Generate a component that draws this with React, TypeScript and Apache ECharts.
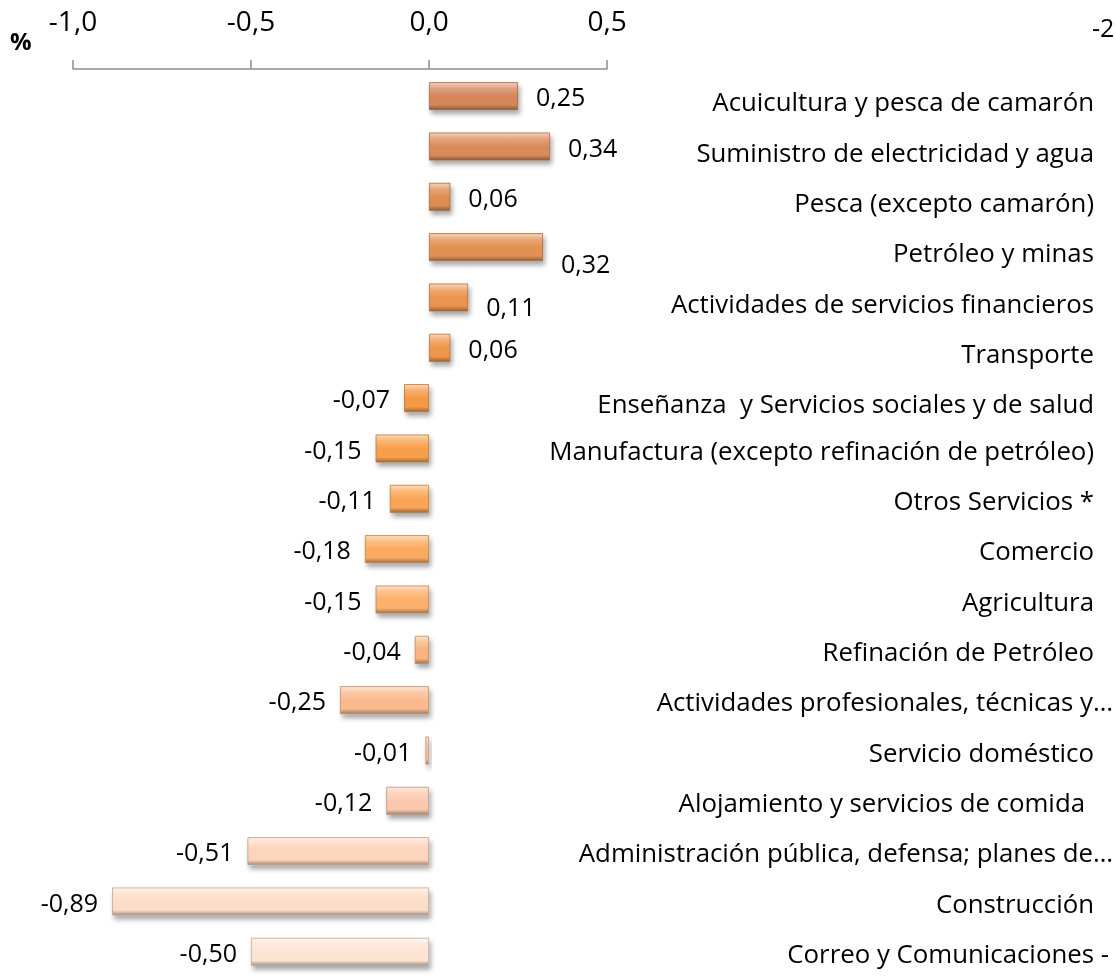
import React, { useEffect, useRef } from "react";
import * as echarts from "echarts";

const categories: string[] = [
  "Acuicultura y pesca de camarón",
  "Suministro de electricidad y agua",
  "Pesca (excepto camarón)",
  "Petróleo y minas",
  "Actividades de servicios financieros",
  "Transporte",
  "Enseñanza  y Servicios sociales y de salud",
  "Manufactura (excepto refinación de petróleo)",
  "Otros Servicios *",
  "Comercio",
  "Agricultura",
  "Refinación de Petróleo",
  "Actividades profesionales, técnicas y…",
  "Servicio doméstico",
  "Alojamiento y servicios de comida",
  "Administración pública, defensa; planes de…",
  "Construcción",
  "Correo y Comunicaciones -",
];

const values: number[] = [
  0.25, 0.34, 0.06, 0.32, 0.11, 0.06, -0.07, -0.15, -0.11, -0.18, -0.15, -0.04,
  -0.25, -0.01, -0.12, -0.51, -0.89, -0.5,
];

const barColors: string[] = [
  "#d4865a", "#da8a58", "#df8d55", "#e39052", "#e99350", "#ef964c",
  "#f49a47", "#f7a04c", "#f9a555", "#faaa60", "#fbb06c", "#f9b37e",
  "#fbba8e", "#f9c3a2", "#fac9ad", "#fcd3bb", "#fddcc8", "#fde3d2",
];

const xTickLabelFormat = (v: number) => v.toFixed(1).replace(".", ",");
const valueFormat = (v: number) => v.toFixed(2).replace(".", ",");

function mix(hex: string, target: number, t: number): string {
  const n = parseInt(hex.slice(1), 16);
  const r = (n >> 16) & 255;
  const g = (n >> 8) & 255;
  const b = n & 255;
  const f = (c: number) => Math.round(c + (target - c) * t);
  return `rgb(${f(r)},${f(g)},${f(b)})`;
}

const FONT = "Open Sans";

export default function App() {
  const ref = useRef<HTMLDivElement>(null);
  useEffect(() => {
    if (!ref.current) return;
    const chart = echarts.init(ref.current, null, { renderer: "svg" });

    const padRight: Record<string, number> = {
      "Actividades profesionales, técnicas y…": 0,
      "Administración pública, defensa; planes de…": 0,
      "Correo y Comunicaciones -": 4,
      "Alojamiento y servicios de comida": 28,
    };
    const rich: Record<string, any> = {};
    categories.forEach((c, i) => {
      const p = padRight[c] !== undefined ? padRight[c] : 19;
      rich["c" + i] = {
        fontFamily: FONT,
        fontSize: 25.8,
        color: "#000",
        padding: [i < 7 ? 10 : 2, p, 0, 0],
      };
    });

    const labelOffsets: Record<number, number[]> = { 3: [0, 16], 4: [0, 8] };

    const data = values.map((v, i) => {
      const base = barColors[i];
      return {
        value: v,
        itemStyle: {
          color: new echarts.graphic.LinearGradient(0, 0, 0, 1, [
            { offset: 0, color: mix(base, 255, 0.6) },
            { offset: 0.22, color: mix(base, 255, 0.22) },
            { offset: 0.5, color: base },
            { offset: 0.82, color: base },
            { offset: 1, color: mix(base, 0, 0.35) },
          ]),
          borderColor: mix(base, 0, 0.25),
          borderWidth: 0.8,
          shadowColor: "rgba(0,0,0,0.35)",
          shadowBlur: 5,
          shadowOffsetX: 2,
          shadowOffsetY: 4,
        },
        label: {
          position: v >= 0 ? "right" : "left",
          distance: v >= 0 ? 18 : 14,
          offset: labelOffsets[i] || [0, 0],
        },
      };
    });

    chart.setOption({
      animation: false,
      grid: { left: 73, right: 506, top: 71, height: 916 },
      xAxis: {
        type: "value",
        position: "top",
        min: -1,
        max: 0.5,
        interval: 0.5,
        offset: 2,
        axisLine: { show: true, lineStyle: { color: "#8c8c8c", width: 1.5 } },
        axisTick: { show: true, length: 9, lineStyle: { color: "#8c8c8c", width: 1.5 } },
        splitLine: { show: false },
        axisLabel: {
          formatter: xTickLabelFormat,
          fontFamily: FONT,
          fontSize: 28,
          color: "#000",
          margin: 35,
        },
      },
      yAxis: {
        type: "category",
        data: categories,
        inverse: true,
        position: "right",
        axisLine: { show: false, onZero: false },
        axisTick: { show: false },
        axisLabel: {
          align: "right",
          margin: 506,
          formatter: (v: string) => {
            const i = categories.indexOf(v);
            return `{c${i}|${v}}`;
          },
          rich,
        },
      },
      series: [
        {
          type: "bar",
          data,
          barWidth: 28,
          label: {
            show: true,
            formatter: (p: any) => valueFormat(p.value),
            fontFamily: FONT,
            fontSize: 25,
            color: "#000",
          },
        },
      ],
      graphic: [
        {
          type: "text",
          left: 10,
          top: 28,
          style: { text: "%", font: `bold 24px ${FONT}`, fill: "#000" },
        },
        {
          type: "text",
          left: 1092,
          top: 14,
          style: { text: "-2", font: `25px ${FONT}`, fill: "#000" },
        },
      ],
    });

    return () => chart.dispose();
  }, []);
  return (
    <div
      ref={ref}
      style={{ position: "fixed", left: 0, top: 0, width: 1116, height: 977 }}
    />
  );
}
